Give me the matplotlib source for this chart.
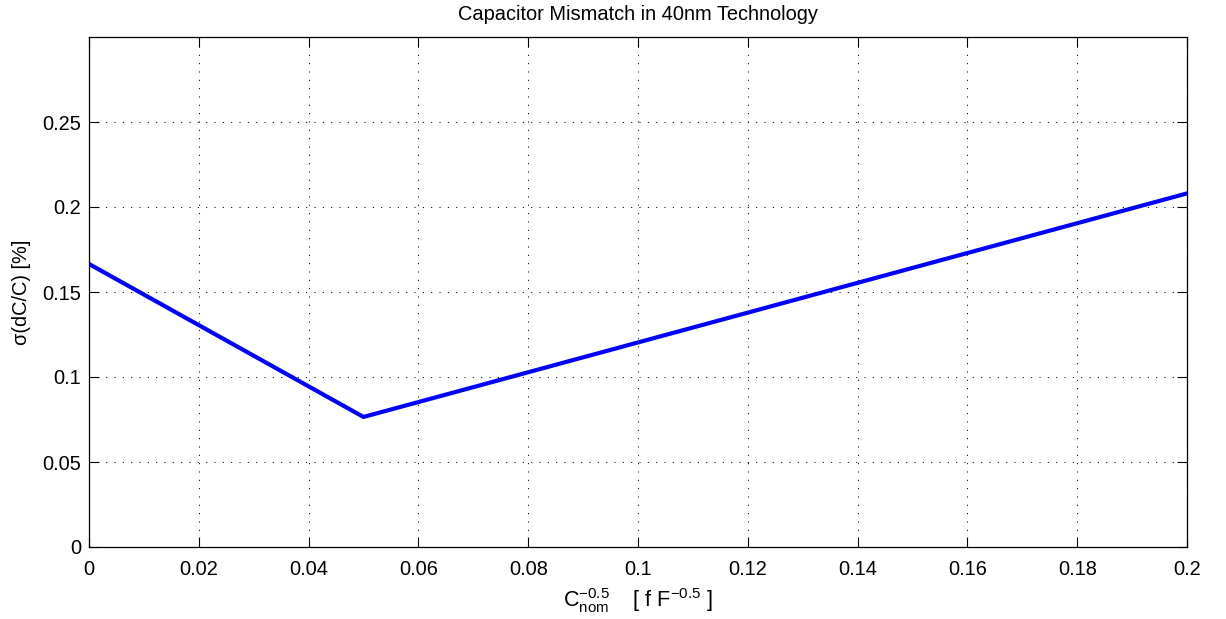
import matplotlib
matplotlib.use("Agg")
import matplotlib.pyplot as plt
from matplotlib.ticker import FuncFormatter

plt.rcParams['font.family'] = ['Liberation Sans', 'DejaVu Sans']
plt.rcParams['mathtext.fontset'] = 'custom'
plt.rcParams['mathtext.rm'] = 'Liberation Sans'
plt.rcParams['mathtext.it'] = 'Liberation Sans'
plt.rcParams['mathtext.bf'] = 'Liberation Sans'

# Data
x_vals = [0.0, 0.05, 0.2]
y_vals = [0.1665, 0.0765, 0.208]
x_ticks = [0, 0.02, 0.04, 0.06, 0.08, 0.1, 0.12, 0.14, 0.16, 0.18, 0.2]
y_ticks = [0, 0.05, 0.1, 0.15, 0.2, 0.25]

fig = plt.figure(figsize=(12.26, 6.19), dpi=100)
ax = fig.add_axes([89/1226, 1 - 547/619, (1187-89)/1226, (547-37)/619])

ax.plot(x_vals, y_vals, color='#0000ff', linewidth=3)

ax.set_xlim(0, 0.2)
ax.set_ylim(0, 0.3)
ax.set_xticks(x_ticks)
ax.set_yticks(y_ticks)
fmt = FuncFormatter(lambda v, p: '%g' % round(v, 4))
ax.xaxis.set_major_formatter(fmt)
ax.yaxis.set_major_formatter(fmt)

ax.grid(True, color='black', linestyle=(0, (1, 7)), linewidth=0.75)
ax.tick_params(direction='in', length=7.5, width=0.8, top=True, right=True,
               labelsize=14.4)
ax.tick_params(axis='x', pad=9.5)
ax.tick_params(axis='y', pad=5.5)
for s in ax.spines.values():
    s.set_linewidth(0.9)

ax.set_title('Capacitor Mismatch in 40nm Technology', fontsize=14.4, pad=12)
ax.set_xlabel(r'$\mathregular{C_{nom}^{-0.5}}$    [ f F$^{\mathregular{-0.5}}$ ]', fontsize=15.5, labelpad=5)
ax.set_ylabel('σ(dC/C) [%]', fontsize=14.4, labelpad=8)

fig.savefig('out.png', dpi=100)
